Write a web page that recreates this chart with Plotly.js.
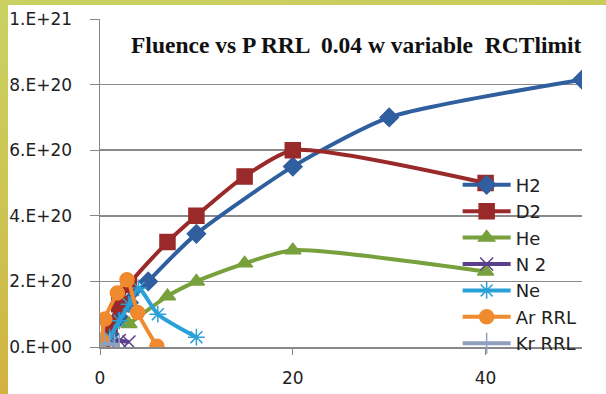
<!DOCTYPE html>
<html>
<head>
<meta charset="utf-8">
<script src="https://cdn.plot.ly/plotly-3.0.1.min.js"></script>
<style>
  html, body { margin: 0; padding: 0; width: 606px; height: 394px; overflow: hidden; }
  body { background: linear-gradient(170deg, #c9d262 0%, #cdbf4e 55%, #d8a632 100%); position: relative; }
  #chart { position: absolute; left: 8px; top: 5px; width: 598px; height: 389px; background: #fff; }
</style>
</head>
<body>
<div id="chart"></div>
<script>
// Pressure (x) and fluence (y) per gas
const h2X = [0.2, 1, 2, 3, 5, 10, 20, 30, 50];
const h2Y = [0.05e20, 0.4e20, 0.9e20, 1.35e20, 2.0e20, 3.45e20, 5.5e20, 7.0e20, 8.15e20];

const d2X = [0.2, 1, 2, 3, 7, 10, 15, 20, 40];
const d2Y = [0.1e20, 0.7e20, 1.3e20, 1.9e20, 3.2e20, 4.0e20, 5.2e20, 6.0e20, 5.0e20];

const heX = [3, 7, 10, 15, 20, 40];
const heY = [0.7e20, 1.55e20, 2.0e20, 2.55e20, 2.95e20, 2.3e20];

const n2X = [0.2, 1, 2, 3];
const n2Y = [0.1e20, 0.15e20, 0.2e20, 0.15e20];

const neX = [0.3, 1, 2, 3, 4, 6, 10];
const neY = [0.05e20, 0.3e20, 0.8e20, 1.3e20, 1.8e20, 1.0e20, 0.3e20];

const arX = [0.2, 0.5, 1.8, 2.8, 3.9, 5.9];
const arY = [0.2e20, 0.85e20, 1.65e20, 2.05e20, 1.05e20, 0.02e20];

const krX = [0, 0.5, 1, 1.5, 2];
const krY = [0.05e20, 0.1e20, 0.1e20, 0.08e20, 0.05e20];

const yTickVals = [0, 2e20, 4e20, 6e20, 8e20, 1e21];
const yTickText = ['0.E+00', '2.E+20', '4.E+20', '6.E+20', '8.E+20', '1.E+21'];
const xTickVals = [0, 20, 40];

const titleText = 'Fluence vs P RRL  0.04 w variable  RCTlimit';

function series(name, x, y, color, symbol, size) {
  return {
    type: 'scatter', mode: 'lines+markers', name: name, x: x, y: y,
    line: { color: color, width: 4, shape: 'spline', smoothing: 0.6 },
    marker: { color: color, symbol: symbol, size: size, line: { color: color, width: 1.5 } }
  };
}

const traces = [
  series('H2', h2X, h2Y, '#2f5f9f', 'diamond', 14),
  series('D2', d2X, d2Y, '#9a2a2a', 'square', 15),
  series('He', heX, heY, '#78a03c', 'triangle-up', 14),
  series('N 2', n2X, n2Y, '#5b3f8c', 'x-thin-open', 13),
  series('Ne', neX, neY, '#2aa0d8', 'asterisk-open', 14),
  series('Ar RRL', arX, arY, '#f08a2e', 'circle', 14),
  series('Kr RRL', krX, krY, '#8fa0bf', 'line-ns-open', 15)
];

const tickFont = { family: 'DejaVu Sans, sans-serif', size: 17, color: '#222' };

const layout = {
  width: 598, height: 389,
  margin: { l: 92, r: 24, t: 14, b: 47 },
  paper_bgcolor: '#ffffff', plot_bgcolor: '#ffffff',
  font: tickFont,
  showlegend: true,
  legend: {
    x: 0.742, y: 0.55, xanchor: 'left', yanchor: 'top',
    bgcolor: 'rgba(0,0,0,0)', itemwidth: 48, tracegroupgap: 0,
    font: { family: 'DejaVu Sans, sans-serif', size: 18, color: '#222' }
  },
  xaxis: {
    range: [0, 50], showgrid: false, zeroline: false,
    tickvals: xTickVals, ticks: 'outside', ticklen: 6, tickcolor: '#888',
    showline: true, linecolor: '#888', linewidth: 1.5,
    ticklabelstandoff: 9, tickfont: tickFont
  },
  yaxis: {
    range: [0, 1e21], tickvals: yTickVals, ticktext: yTickText,
    showgrid: true, gridcolor: '#8a8a8a', gridwidth: 1.5, zeroline: false,
    ticks: 'outside', ticklen: 9, tickcolor: '#888',
    showline: true, linecolor: '#888', linewidth: 1.5,
    ticklabelstandoff: 14, tickfont: tickFont
  },
  annotations: [{
    text: '<b>' + titleText + '</b>', xref: 'paper', yref: 'paper',
    x: 0.533, y: 0.921, showarrow: false, xanchor: 'center', yanchor: 'middle',
    font: { family: 'Liberation Serif, Times New Roman, serif', size: 23.5, color: '#111' }
  }]
};

Plotly.newPlot('chart', traces, layout, { displayModeBar: false, staticPlot: true });
</script>
</body>
</html>
